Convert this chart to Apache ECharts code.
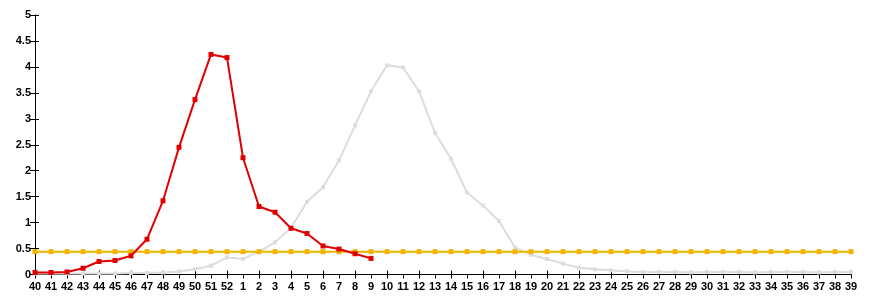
<!DOCTYPE html>
<html>
<head>
<meta charset="utf-8">
<script src="https://cdn.jsdelivr.net/npm/echarts@6/dist/echarts.min.js"></script>
<style>
html,body{margin:0;padding:0;background:#fff;}
#chart{width:870px;height:300px;}
</style>
</head>
<body>
<div id="chart"></div>
<script>
var weeks = ['40','41','42','43','44','45','46','47','48','49','50','51','52',
  '1','2','3','4','5','6','7','8','9','10','11','12','13','14','15','16','17','18','19','20',
  '21','22','23','24','25','26','27','28','29','30','31','32','33','34','35','36','37','38','39'];

var currentSeason = [0.04,0.04,0.05,0.12,0.25,0.27,0.36,0.68,1.42,2.45,3.37,4.24,4.18,
  2.25,1.31,1.2,0.89,0.79,0.55,0.49,0.4,0.31];

var previousSeason = [0.02,0.02,0.02,0.02,0.02,0.02,0.03,0.03,0.04,0.06,0.1,0.17,0.33,
  0.3,0.44,0.62,0.9,1.4,1.68,2.2,2.87,3.53,4.03,3.99,3.53,2.73,2.23,1.58,1.33,1.03,0.52,0.38,0.3,
  0.21,0.13,0.1,0.08,0.06,0.05,0.05,0.05,0.04,0.05,0.05,0.05,0.04,0.05,0.05,0.05,0.04,0.05,0.05];

var thresholdValue = 0.44;
var threshold = weeks.map(function(){ return thresholdValue; });

var yTicks = {min: 0, max: 5, interval: 0.5};

var labelFont = {color:'#000', fontFamily:'Liberation Sans, Arial, sans-serif', fontWeight:'bold', fontSize:11};

var chart = echarts.init(document.getElementById('chart'));
chart.setOption({
  animation:false,
  grid:{left:35, right:19, top:15, bottom:25.5, containLabel:false},
  xAxis:[{
    type:'category', data:weeks, boundaryGap:false, position:'bottom',
    axisLine:{lineStyle:{color:'#000', width:1}},
    axisTick:{show:true, inside:false, length:4, alignWithLabel:true, lineStyle:{color:'#000'}},
    axisLabel:Object.assign({interval:0, margin:7}, labelFont),
    splitLine:{show:false}
  },{
    type:'category', data:weeks, boundaryGap:false, position:'bottom',
    axisLine:{show:false},
    axisTick:{show:true, inside:true, length:4, lineStyle:{color:'#000'}},
    axisLabel:{show:false},
    splitLine:{show:false}
  }],
  yAxis:[{
    type:'value', min:yTicks.min, max:yTicks.max, interval:yTicks.interval, position:'left',
    axisLine:{show:true, lineStyle:{color:'#000', width:1}},
    axisTick:{show:true, inside:false, length:5, lineStyle:{color:'#000'}},
    axisLabel:Object.assign({margin:4}, labelFont),
    splitLine:{show:false}
  },{
    type:'value', min:yTicks.min, max:yTicks.max, interval:yTicks.interval, position:'left',
    axisLine:{show:false},
    axisTick:{show:true, inside:true, length:4, lineStyle:{color:'#000'}},
    axisLabel:{show:false},
    splitLine:{show:false}
  }],
  series:[{
    name:'previous', type:'line', data:previousSeason, xAxisIndex:0, yAxisIndex:0,
    symbol:'rect', symbolSize:4, showAllSymbol:true,
    lineStyle:{color:'#dddddd', width:2}, itemStyle:{color:'#dddddd'}, z:2
  },{
    name:'threshold', type:'line', data:threshold,
    symbol:'rect', symbolSize:5, showAllSymbol:true,
    lineStyle:{color:'#f0b400', width:2}, itemStyle:{color:'#f0b400'}, z:3
  },{
    name:'current', type:'line', data:currentSeason,
    symbol:'rect', symbolSize:5, showAllSymbol:true,
    lineStyle:{color:'#e00000', width:2}, itemStyle:{color:'#e00000'}, z:4
  }]
});
</script>
</body>
</html>
